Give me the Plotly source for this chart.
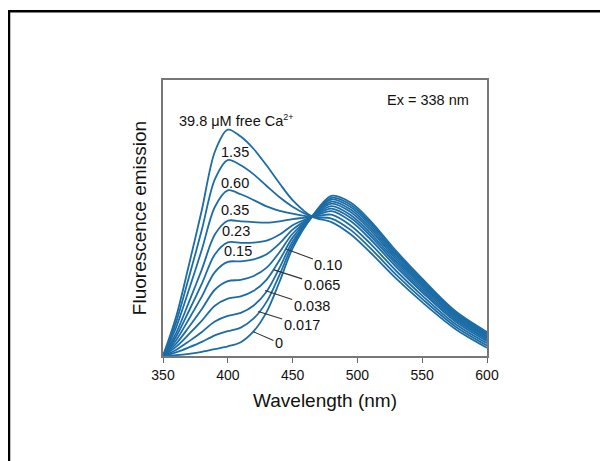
import plotly.graph_objects as go

# ---------------- data ----------------
wavelength = [350, 360, 370, 380, 390, 400, 410, 420, 430, 440, 450, 465,
              480, 495, 510, 530, 550, 575, 600]

ca_labels = ["39.8", "1.35", "0.60", "0.35", "0.23", "0.15",
             "0.10", "0.065", "0.038", "0.017", "0"]

em_39_8 = [0, 14.0, 33.0, 53.0, 74.0, 82.0, 79.5, 75.0, 69.0, 62.5, 56.5, 50.5,
           48.5, 44.0, 37.5, 28.0, 19.5, 10.0, 3.0]
em_1_35 = [0, 12.1, 28.5, 45.8, 64.0, 71.0, 69.1, 65.8, 61.6, 57.5, 54.1, 50.5,
           49.8, 45.6, 39.1, 29.4, 20.7, 10.9, 3.8]
em_0_60 = [0, 10.2, 24.0, 38.6, 54.0, 60.0, 58.6, 56.5, 54.2, 52.6, 51.6, 50.5,
           51.2, 47.2, 40.7, 30.8, 21.9, 11.8, 4.6]
em_0_35 = [0, 8.2, 19.5, 31.4, 44.0, 49.0, 48.8, 48.5, 48.3, 48.8, 49.6, 50.5,
           52.5, 48.8, 42.3, 32.2, 23.1, 12.7, 5.4]
em_0_23 = [0, 6.9, 16.3, 26.2, 36.8, 41.2, 41.0, 41.1, 41.8, 44.0, 47.4, 50.5,
           53.4, 50.0, 43.5, 33.2, 23.9, 13.4, 6.0]
em_0_15 = [0, 5.6, 13.4, 21.6, 30.4, 34.1, 34.3, 35.0, 36.9, 40.8, 45.8, 50.5,
           54.3, 51.0, 44.5, 34.1, 24.7, 14.0, 6.5]
em_0_10 = [0, 4.4, 10.5, 17.0, 24.0, 27.1, 27.6, 29.0, 32.0, 37.7, 44.3, 50.5,
           55.2, 52.1, 45.6, 35.0, 25.5, 14.6, 7.0]
em_0_065 = [0, 3.3, 7.9, 12.8, 18.2, 20.8, 21.6, 23.6, 27.7, 34.8, 42.9, 50.5,
            55.9, 53.0, 46.5, 35.8, 26.1, 15.1, 7.4]
em_0_038 = [0, 2.2, 5.3, 8.7, 12.5, 14.5, 15.6, 18.3, 23.4, 32.0, 41.5, 50.5,
            56.7, 53.9, 47.4, 36.6, 26.8, 15.6, 7.9]
em_0_017 = [0, 1.3, 3.1, 5.1, 7.5, 9.0, 10.3, 13.6, 19.7, 29.5, 40.2, 50.5,
            57.3, 54.7, 48.2, 37.3, 27.4, 16.0, 8.3]
em_0 = [0, 0.3, 0.8, 1.5, 2.5, 3.5, 5.0, 9.0, 16.0, 27.0, 39.0, 50.5,
        58.0, 55.5, 49.0, 38.0, 28.0, 16.5, 8.7]

series = [em_39_8, em_1_35, em_0_60, em_0_35, em_0_23, em_0_15,
          em_0_10, em_0_065, em_0_038, em_0_017, em_0]

x_ticks = [350, 400, 450, 500, 550, 600]

# labels placed just above their curves (left group)
left_label_text = ["39.8 μM free Ca<sup><span style='font-size:9px'>2+</span></sup>",
                   "1.35", "0.60", "0.35", "0.23", "0.15"]
left_label_x = [406.7, 405.6, 405.6, 405.8, 406.7, 407.5]
left_label_y = [85.5, 73.9, 62.7, 52.9, 45.4, 38.0]

# labels with leader lines (right group): point on curve -> label position
lead_text = ["0.10", "0.065", "0.038", "0.017", "0"]
lead_pt_x = [444.9, 435.6, 428.7, 423.5, 419.7]
lead_pt_y = [38.8, 31.2, 23.7, 16.1, 8.8]
lead_lab_x = [477.6, 472.4, 464.7, 457.0, 439.5]
lead_lab_y = [33.0, 25.7, 18.2, 11.2, 4.8]

# ---------------- figure ----------------
LINE_COLOR = "#1c6ca6"
FONT = "Liberation Sans, Arial, Helvetica, sans-serif"
LABEL_SIZE = 14.5

fig = go.Figure()
for name, ys in zip(ca_labels, series):
    fig.add_trace(go.Scatter(
        x=wavelength, y=ys, mode="lines", name=name,
        line=dict(color=LINE_COLOR, width=1.8, shape="spline", smoothing=0.9),
        showlegend=False, hoverinfo="skip"))

annotations = []
for t, x, y in zip(left_label_text, left_label_x, left_label_y):
    annotations.append(dict(x=x, y=y, xref="x", yref="y", text=t, showarrow=False,
                            font=dict(size=LABEL_SIZE, color="#111", family=FONT)))
for t, px, py, lx, ly in zip(lead_text, lead_pt_x, lead_pt_y, lead_lab_x, lead_lab_y):
    annotations.append(dict(x=px, y=py, xref="x", yref="y", ax=lx, ay=ly,
                            axref="x", ayref="y", text=t, showarrow=True,
                            arrowhead=0, arrowwidth=1.1, arrowcolor="#333",
                            standoff=0, startstandoff=0,
                            font=dict(size=LABEL_SIZE, color="#111", family=FONT)))
annotations.append(dict(x=554.5, y=92.8, xref="x", yref="y", text="Ex = 338 nm",
                        showarrow=False, font=dict(size=LABEL_SIZE, color="#111", family=FONT)))

fig.update_layout(
    width=600, height=453,
    margin=dict(l=155, r=121, t=72, b=105),
    paper_bgcolor="white", plot_bgcolor="white",
    font=dict(family=FONT, color="#111"),
    annotations=annotations,
    shapes=[dict(type="rect", xref="paper", yref="paper",
                 x0=-0.4753, y0=-0.7, x1=1.7, y1=1.2493,
                 line=dict(color="black", width=2.5), layer="above")],
    xaxis=dict(range=[350, 600], tickvals=x_ticks, ticks="outside", ticklen=5,
               tickcolor="#666", tickwidth=1.2, showline=True, linecolor="#777",
               linewidth=1.5, mirror=True, showgrid=False, zeroline=False,
               tickfont=dict(size=14, family=FONT, color="#111"),
               title=dict(text="Wavelength (nm)", font=dict(size=19, family=FONT, color="#111"),
                          standoff=12)),
    yaxis=dict(range=[0, 100], showticklabels=False, ticks="", showline=True,
               linecolor="#777", linewidth=1.5, mirror=True, showgrid=False,
               zeroline=False,
               title=dict(text="Fluorescence emission",
                          font=dict(size=19, family=FONT, color="#111"), standoff=10)),
)

fig.write_html("out.html")
